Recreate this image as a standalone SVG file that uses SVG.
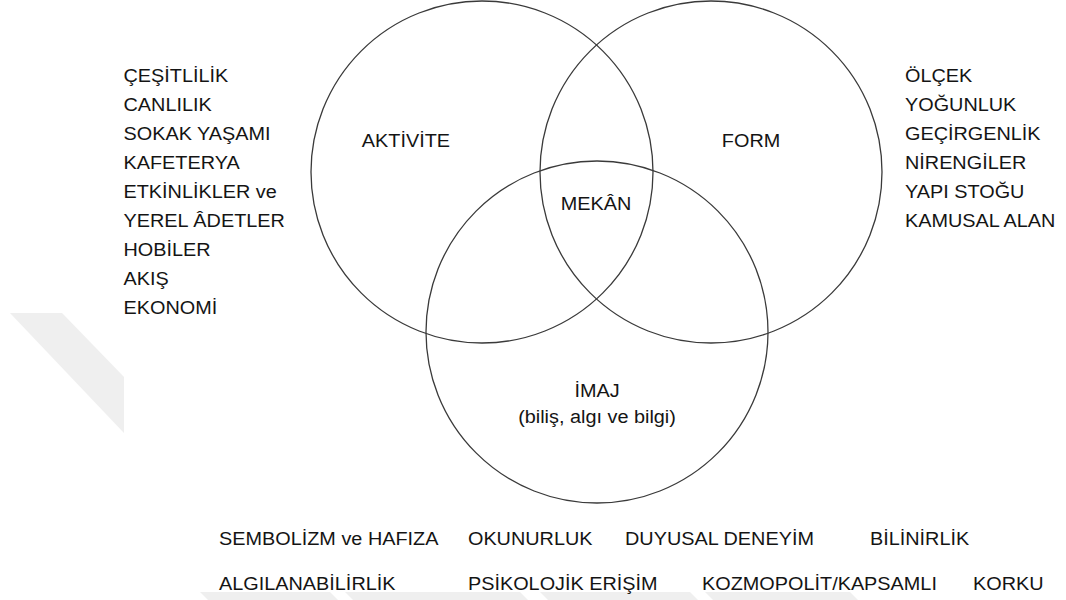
<svg xmlns="http://www.w3.org/2000/svg" width="1066" height="600" viewBox="0 0 1066 600">
  <style>
    .c { fill: none; stroke: #3a3a3a; stroke-width: 1.3; }
    .t { font-family: "Liberation Sans", Arial, sans-serif; font-size: 19px; fill: #141414; }
    .m { text-anchor: middle; }
    .wm { fill: #efefef; }
  </style>
  <rect x="0" y="0" width="1066" height="600" fill="#ffffff"/>
  <g id="watermark">
    <polygon class="wm" points="10,313 62,313 124,377 124,433"/>
    <polygon class="wm" points="200,592 330,592 338,600 208,600"/>
    <polygon class="wm" points="345,592 520,592 528,600 353,600"/>
    <polygon class="wm" points="540,592 690,592 698,600 548,600"/>
    <polygon class="wm" points="705,592 850,592 858,600 713,600"/>
  </g>
  <g id="connectors"></g>
  <g id="node-aktivite">
    <circle class="c" cx="482" cy="172" r="171"/>
    <text class="t m" transform="scale(1.045 1)" x="388.5" y="147">AKTİVİTE</text>
  </g>
  <g id="node-form">
    <circle class="c" cx="711" cy="172" r="171"/>
    <text class="t m" transform="scale(1.045 1)" x="718.7" y="147">FORM</text>
  </g>
  <g id="node-imaj">
    <circle class="c" cx="597" cy="332" r="171"/>
    <text class="t m" transform="scale(1.045 1)" x="571.3" y="397">İMAJ</text>
    <text class="t m" transform="scale(1.045 1)" x="571.3" y="423">(biliş, algı ve bilgi)</text>
  </g>
  <g id="node-mekan">
    <text class="t m" transform="scale(1.045 1)" x="570.3" y="210">MEKÂN</text>
  </g>
  <g id="list-aktivite" transform="scale(1.045 1)">
    <text class="t" x="118.2" y="82">ÇEŞİTLİLİK</text>
    <text class="t" x="118.2" y="111">CANLILIK</text>
    <text class="t" x="118.2" y="140">SOKAK YAŞAMI</text>
    <text class="t" x="118.2" y="169">KAFETERYA</text>
    <text class="t" x="118.2" y="198">ETKİNLİKLER ve</text>
    <text class="t" x="118.2" y="227">YEREL ÂDETLER</text>
    <text class="t" x="118.2" y="256">HOBİLER</text>
    <text class="t" x="118.2" y="285">AKIŞ</text>
    <text class="t" x="118.2" y="314">EKONOMİ</text>
  </g>
  <g id="list-form" transform="scale(1.045 1)">
    <text class="t" x="866" y="82">ÖLÇEK</text>
    <text class="t" x="866" y="111">YOĞUNLUK</text>
    <text class="t" x="866" y="140">GEÇİRGENLİK</text>
    <text class="t" x="866" y="169">NİRENGİLER</text>
    <text class="t" x="866" y="198">YAPI STOĞU</text>
    <text class="t" x="866" y="227">KAMUSAL ALAN</text>
  </g>
  <g id="list-imaj" transform="scale(1.045 1)">
    <text class="t" x="209.6" y="545">SEMBOLİZM ve HAFIZA</text>
    <text class="t" x="447.8" y="545">OKUNURLUK</text>
    <text class="t" x="598.1" y="545">DUYUSAL DENEYİM</text>
    <text class="t" x="832.5" y="545">BİLİNİRLİK</text>
    <text class="t" x="209.6" y="590">ALGILANABİLİRLİK</text>
    <text class="t" x="447.8" y="590">PSİKOLOJİK ERİŞİM</text>
    <text class="t" x="671.8" y="590">KOZMOPOLİT/KAPSAMLI</text>
    <text class="t" x="931.1" y="590">KORKU</text>
  </g>
</svg>
